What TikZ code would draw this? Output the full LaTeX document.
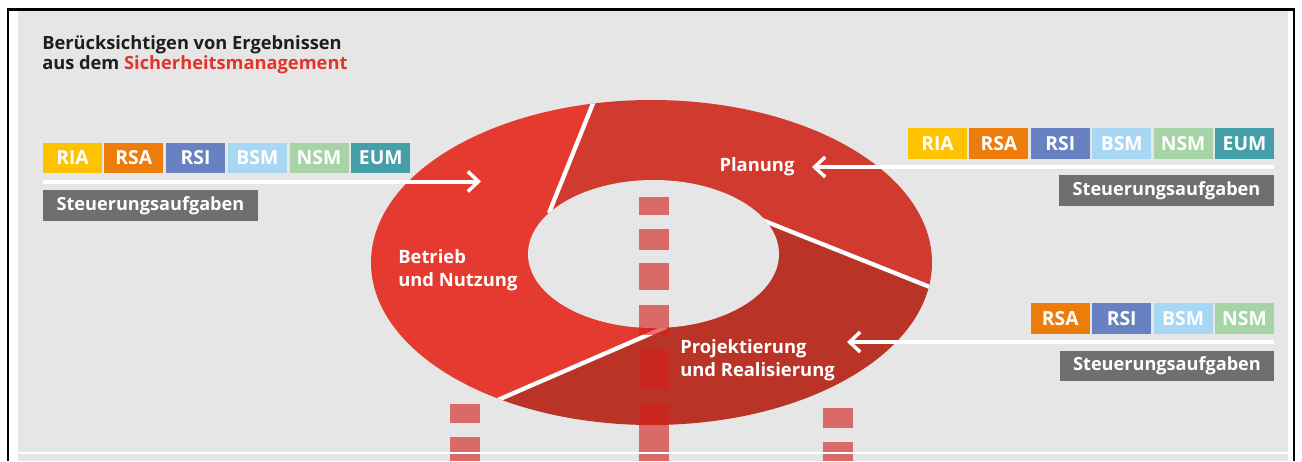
\documentclass[tikz,border=0pt]{standalone}
\usepackage{fontspec}
\setmainfont{Open Sans}
\usetikzlibrary{arrows.meta}
\definecolor{bg}{HTML}{E6E6E6}
\definecolor{titletxt}{HTML}{1E1E1E}
\definecolor{secred}{HTML}{E3342C}
\definecolor{cBetrieb}{HTML}{E43A2F}
\definecolor{cPlanung}{HTML}{D13A2E}
\definecolor{cProj}{HTML}{B93427}
\definecolor{cRIA}{HTML}{FDC300}
\definecolor{cRSA}{HTML}{EC7D0B}
\definecolor{cRSI}{HTML}{6881C3}
\definecolor{cBSM}{HTML}{A8D7F4}
\definecolor{cNSM}{HTML}{A6D4A6}
\definecolor{cEUM}{HTML}{459FA8}
\definecolor{cSteu}{HTML}{6F6F6F}
\definecolor{cBar}{RGB}{212,30,26}
\tikzset{
  tag/.style={fill=#1, text=white, minimum width=44.25pt, minimum height=23pt, inner sep=0pt,
    font=\fontsize{14.5}{16}\selectfont\bfseries},
  steu/.style={fill=cSteu, text=white, minimum width=161pt, minimum height=23pt, inner sep=0pt,
    font=\fontsize{13.6}{16}\selectfont\bfseries},
  ringlabel/.style={text=white, align=left, inner sep=0pt, font=\fontsize{13.8}{17.25}\selectfont\bfseries},
  titlefont/.style={anchor=base west, inner sep=0pt, text=titletxt, font=\fontsize{13.7}{16}\selectfont\bfseries},
  warrow/.style={draw=white, line width=3pt, -{Straight Barb[length=8pt, width=15pt, line width=2.6pt]}},
  bar/.style={fill=cBar, fill opacity=0.62, draw=none},
  gap/.style={draw=white, line width=3.2pt}
}
\begin{document}
\begin{tikzpicture}[x=0.75pt,y=-0.75pt]
\useasboundingbox (0,0) rectangle (1302,461);
\fill[white] (0,0) rectangle (1302,461);
\fill[bg] (18,10) rectangle (1288,461);
\draw[black, line width=1.6pt] (8,461) -- (8,9.5) -- (1294,9.5) -- (1294,461);

% title
\node[titlefont] (title1) at (42,49) {Berücksichtigen von Ergebnissen};
\node[titlefont] (title2) at (42,69) {aus dem \textcolor{secred}{Sicherheitsmanagement}};

% ring geometry
\coordinate (Oc) at (651.5,262.5);
\coordinate (Ic) at (653.5,254);
\coordinate (Ain) at (549,213);
\coordinate (Aext) at (606,71);
\coordinate (Bin) at (762,220);
\coordinate (Bext) at (980,307);
\coordinate (Cin) at (666,327);
\coordinate (Cext) at (454,419);

\begin{scope}
  \clip (Cext) -- (Cin) -- (Ain) -- (Aext) -- (340,71) -- (340,440) -- cycle;
  \fill[cBetrieb] (Oc) ellipse [x radius=210.375pt, y radius=121.875pt];
\end{scope}
\begin{scope}
  \clip (Aext) -- (Ain) -- (Bin) -- (Bext) -- (980,71) -- cycle;
  \fill[cPlanung] (Oc) ellipse [x radius=210.375pt, y radius=121.875pt];
\end{scope}
\begin{scope}
  \clip (Bext) -- (Bin) -- (Cin) -- (Cext) -- (454,461) -- (980,461) -- cycle;
  \fill[cProj] (Oc) ellipse [x radius=210.375pt, y radius=121.875pt];
\end{scope}
\begin{scope}
  \clip (Oc) ellipse [x radius=210.375pt, y radius=121.875pt];
  \draw[gap] (Ain) -- (Aext);
  \draw[gap] (Bin) -- (Bext);
  \draw[gap] (Cin) -- (Cext);
\end{scope}
\fill[bg] (Ic) ellipse [x radius=94.125pt, y radius=55.5pt];

% ring labels
\node[ringlabel, anchor=center] (planung) at (757,167) {Planung};
\node[ringlabel, anchor=base west] (betrieb) at (398,286) {Betrieb\\und Nutzung};
\node[ringlabel, anchor=base west] (projekt) at (680,376) {Projektierung\\und Realisierung};

% dashed bars
\fill[bar] (450,404) rectangle (480,423);
\fill[bar] (450,437) rectangle (480,461);
\fill[bar] (639,197) rectangle (669,215);
\fill[bar] (639,229) rectangle (669,250);
\fill[bar] (639,263) rectangle (669,290);
\fill[bar] (639,305) rectangle (669,335);
\fill[bar] (639,350) rectangle (669,390);
\fill[bar] (639,404) rectangle (669,461);
\fill[bar] (823,408) rectangle (853,428);
\fill[bar] (823,442) rectangle (853,461);

\draw[white, line width=2.2pt] (18,453) -- (1288,453);

% left group
\node[tag=cRIA] (lRIA) at (72.5,158) {RIA};
\node[tag=cRSA] (lRSA) at (133.8,158) {RSA};
\node[tag=cRSI] (lRSI) at (195.5,158) {RSI};
\node[tag=cBSM] (lBSM) at (257.3,158) {BSM};
\node[tag=cNSM] (lNSM) at (319,158) {NSM};
\node[tag=cEUM] (lEUM) at (380.8,158) {EUM};
\node[steu] (lSteu) at (150.5,205.5) {Steuerungsaufgaben};
\coordinate (lStart) at (43,181.5);
\coordinate (lEnd) at (481,181.5);
\draw[warrow] (lStart) -- (lEnd);

% right top group
\node[tag=cRIA] (rRIA) at (937.5,143.5) {RIA};
\node[tag=cRSA] (rRSA) at (998.9,143.5) {RSA};
\node[tag=cRSI] (rRSI) at (1060.3,143.5) {RSI};
\node[tag=cBSM] (rBSM) at (1121.7,143.5) {BSM};
\node[tag=cNSM] (rNSM) at (1183.1,143.5) {NSM};
\node[tag=cEUM] (rEUM) at (1244.5,143.5) {EUM};
\node[steu] (rSteu) at (1166.5,190.5) {Steuerungsaufgaben};
\coordinate (rStart) at (1274,167);
\coordinate (rEnd) at (812,167);
\draw[warrow] (rStart) -- (rEnd);

% right middle group
\node[tag=cRSA] (mRSA) at (1060.3,318.5) {RSA};
\node[tag=cRSI] (mRSI) at (1121.7,318.5) {RSI};
\node[tag=cBSM] (mBSM) at (1183.1,318.5) {BSM};
\node[tag=cNSM] (mNSM) at (1244.5,318.5) {NSM};
\node[steu] (mSteu) at (1167,366) {Steuerungsaufgaben};
\coordinate (mStart) at (1274,342);
\coordinate (mEnd) at (847,342);
\draw[warrow] (mStart) -- (mEnd);
\end{tikzpicture}
\end{document}
